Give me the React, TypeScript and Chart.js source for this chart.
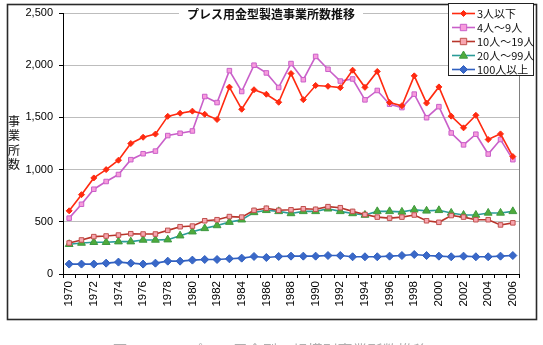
import React, { useEffect, useRef } from "react";
import { Chart, registerables } from "chart.js";

Chart.register(...registerables);

const years: string[] = [
  "1970","1971","1972","1973","1974","1975","1976","1977","1978","1979",
  "1980","1981","1982","1983","1984","1985","1986","1987","1988","1989",
  "1990","1991","1992","1993","1994","1995","1996","1997","1998","1999",
  "2000","2001","2002","2003","2004","2005","2006",
];

const under3: number[] = [
  605, 760, 920, 1000, 1090, 1250, 1310, 1340, 1510, 1540,
  1560, 1530, 1480, 1790, 1578, 1765, 1722, 1645, 1920, 1670,
  1806, 1798, 1785, 1952, 1788, 1940, 1643, 1612, 1898, 1637,
  1792, 1512, 1400, 1520, 1288, 1342, 1125,
];

const from4to9: number[] = [
  535, 668, 812, 886, 953, 1095, 1152, 1177, 1326, 1348,
  1370, 1700, 1642, 1948, 1748, 2000, 1926, 1787, 2016, 1861,
  2084, 1961, 1848, 1868, 1668, 1758, 1626, 1594, 1723, 1497,
  1603, 1351, 1237, 1339, 1149, 1288, 1095,
];

const from10to19: number[] = [
  297, 326, 358, 364, 373, 386, 383, 383, 418, 453,
  459, 510, 520, 550, 545, 610, 630, 610, 615, 625,
  620, 645, 635, 600, 570, 545, 535, 545, 565, 510,
  495, 560, 545, 520, 520, 470, 490,
];

const from20to99: number[] = [
  285, 297, 304, 304, 310, 310, 326, 326, 329, 367,
  405, 437, 465, 497, 520, 590, 610, 600, 580, 600,
  600, 625, 600, 580, 565, 600, 600, 595, 615, 605,
  610, 585, 565, 565, 585, 585, 600,
];

const over100: number[] = [
  95, 95, 95, 104, 114, 104, 95, 104, 123, 123,
  133, 139, 139, 146, 152, 168, 158, 168, 171, 171,
  171, 177, 177, 165, 165, 165, 171, 177, 187, 177,
  171, 165, 171, 165, 165, 171, 177,
];

const seriesNames: string[] = ["3人以下", "4人～9人", "10人～19人", "20人～99人", "100人以上"];
const yTicks: number[] = [0, 500, 1000, 1500, 2000, 2500];

const chartTitle = "プレス用金型製造事業所数推移";
const yTitle = "事業所数";
const caption = "図４－２　プレス用金型の規模別事業所数推移";

const CJK = '"Noto Sans CJK JP", "Noto Sans", sans-serif';
const LAT = '"Liberation Sans", Arial, sans-serif';

type Style = { line: string; fill: string; border: string; shape: string; r: number };
const styles: Style[] = [
  { line: "#FF2A10", fill: "#FF2A10", border: "#FF2A10", shape: "star", r: 3 },
  { line: "#C95FC9", fill: "#F79BDC", border: "#C95FC9", shape: "rect", r: 3.2 },
  { line: "#B8342A", fill: "#F7A6B0", border: "#C0504D", shape: "rect", r: 3.2 },
  { line: "#2A9C98", fill: "#4FAA3C", border: "#3E9A40", shape: "triangle", r: 4.5 },
  { line: "#3060C0", fill: "#3A68C8", border: "#3060C0", shape: "rectRot", r: 4 },
];

function drawMarker(ctx: CanvasRenderingContext2D, s: Style, x: number, y: number) {
  ctx.save();
  ctx.fillStyle = s.fill;
  ctx.strokeStyle = s.border;
  ctx.lineWidth = 1;
  ctx.beginPath();
  const r = s.r;
  if (s.shape === "rect") {
    ctx.rect(x - r, y - r, 2 * r, 2 * r);
  } else if (s.shape === "rectRot" || s.shape === "star") {
    ctx.moveTo(x, y - r);
    ctx.lineTo(x + r, y);
    ctx.lineTo(x, y + r);
    ctx.lineTo(x - r, y);
    ctx.closePath();
  } else if (s.shape === "triangle") {
    ctx.moveTo(x, y - r);
    ctx.lineTo(x + r * 0.9, y + r * 0.6);
    ctx.lineTo(x - r * 0.9, y + r * 0.6);
    ctx.closePath();
  }
  ctx.fill();
  ctx.stroke();
  ctx.restore();
}

const decorPlugin = {
  id: "decor",
  beforeDraw(chart: any) {
    const ctx: CanvasRenderingContext2D = chart.ctx;
    ctx.save();
    ctx.fillStyle = "#fff";
    ctx.fillRect(0, 0, chart.width, chart.height);
    ctx.restore();
  },
  afterDraw(chart: any) {
    const ctx: CanvasRenderingContext2D = chart.ctx;
    const area = chart.chartArea;
    ctx.save();
    // plot area right border
    ctx.strokeStyle = "#808080";
    ctx.lineWidth = 1;
    ctx.beginPath();
    ctx.moveTo(Math.round(area.right) + 0.5, area.top);
    ctx.lineTo(Math.round(area.right) + 0.5, area.bottom);
    ctx.stroke();

    // outer frame
    ctx.strokeStyle = "#2a2a2a";
    ctx.lineWidth = 1.6;
    ctx.strokeRect(7.5, 4.5, 529, 315);

    // title with white background
    ctx.font = `bold 12px ${CJK}`;
    const tw = ctx.measureText(chartTitle).width;
    const tx = 271;
    const ty = 14;
    ctx.fillStyle = "#fff";
    ctx.fillRect(tx - tw / 2 - 8, ty - 8, tw + 16, 16);
    ctx.fillStyle = "#111";
    ctx.textAlign = "center";
    ctx.textBaseline = "middle";
    ctx.fillText(chartTitle, tx, ty);

    // y axis title, vertical stacked
    ctx.font = `12px ${CJK}`;
    ctx.fillStyle = "#111";
    const chars = Array.from(yTitle);
    chars.forEach((c, i) => ctx.fillText(c, 14, 121 + i * 14.5));

    // legend box
    const lx = 448, ly = 3, lw = 85, lh = 72;
    ctx.fillStyle = "#fff";
    ctx.fillRect(lx, ly, lw, lh);
    ctx.strokeStyle = "#222";
    ctx.lineWidth = 1;
    ctx.strokeRect(lx + 0.5, ly + 0.5, lw, lh);
    ctx.font = `11px ${CJK}`;
    ctx.textAlign = "left";
    ctx.textBaseline = "middle";
    seriesNames.forEach((name, i) => {
      const s = styles[i];
      const y = 13.5 + i * 14;
      ctx.strokeStyle = s.line;
      ctx.lineWidth = 1.6;
      ctx.beginPath();
      ctx.moveTo(452, y);
      ctx.lineTo(475, y);
      ctx.stroke();
      drawMarker(ctx, s, 463.5, y);
      ctx.fillStyle = "#111";
      ctx.fillText(name, 477, y + 0.5);
    });

    // caption (cut off at the bottom)
    ctx.font = `15px ${CJK}`;
    ctx.fillStyle = "#b0b0b0";
    ctx.textAlign = "center";
    ctx.textBaseline = "top";
    ctx.fillText(caption, 270, 343);
    ctx.restore();
  },
};

export default function App() {
  const ref = useRef<HTMLCanvasElement | null>(null);
  useEffect(() => {
    if (!ref.current) return;
    const series = [under3, from4to9, from10to19, from20to99, over100];
    const chart = new Chart(ref.current, {
      type: "line",
      data: {
        labels: years,
        datasets: series.map((d, i) => ({
          label: seriesNames[i],
          data: d,
          borderColor: styles[i].line,
          backgroundColor: styles[i].fill,
          pointBackgroundColor: styles[i].fill,
          pointBorderColor: styles[i].border,
          pointBorderWidth: 1,
          pointStyle: styles[i].shape === "star" ? "rectRot" : styles[i].shape,
          pointRadius: styles[i].r,
          borderWidth: 1.6,
          tension: 0,
        })),
      },
      options: {
        animation: false,
        responsive: false,
        devicePixelRatio: 1,
        layout: { padding: { left: 0, right: 24, top: 13, bottom: 31 } },
        plugins: {
          legend: { display: false },
          tooltip: { enabled: false },
          title: { display: false },
        },
        scales: {
          x: {
            type: "category",
            offset: true,
            afterFit: (s: any) => { s.height = 40; },
            grid: {
              display: true,
              offset: true,
              drawOnChartArea: false,
              drawTicks: true,
              tickLength: 4,
              tickColor: "#000",
            },
            border: { color: "#000", width: 1 },
            ticks: {
              autoSkip: false,
              minRotation: 90,
              maxRotation: 90,
              padding: 3,
              color: "#000",
              font: { family: LAT, size: 11.5 },
              callback: (_v: any, i: number) => (i % 2 === 0 ? years[i] : ""),
            },
          },
          y: {
            min: 0,
            max: 2500,
            afterFit: (s: any) => { s.width = 63; },
            afterBuildTicks: (s: any) => { s.ticks = yTicks.map((v) => ({ value: v })); },
            grid: {
              color: "#BDBDBD",
              tickColor: "#000",
              tickLength: 4,
              drawTicks: true,
            },
            border: { color: "#000", width: 1 },
            ticks: {
              padding: 6,
              color: "#000",
              font: { family: LAT, size: 11 },
              callback: (v: any) => Number(v).toLocaleString("en-US"),
            },
          },
        },
      },
      plugins: [decorPlugin],
    } as any);
    return () => chart.destroy();
  }, []);
  return (
    <div style={{ position: "absolute", left: 0, top: 0, width: 543, height: 345, background: "#fff" }}>
      <canvas ref={ref} width={543} height={345} style={{ display: "block", width: 543, height: 345 }} />
    </div>
  );
}
